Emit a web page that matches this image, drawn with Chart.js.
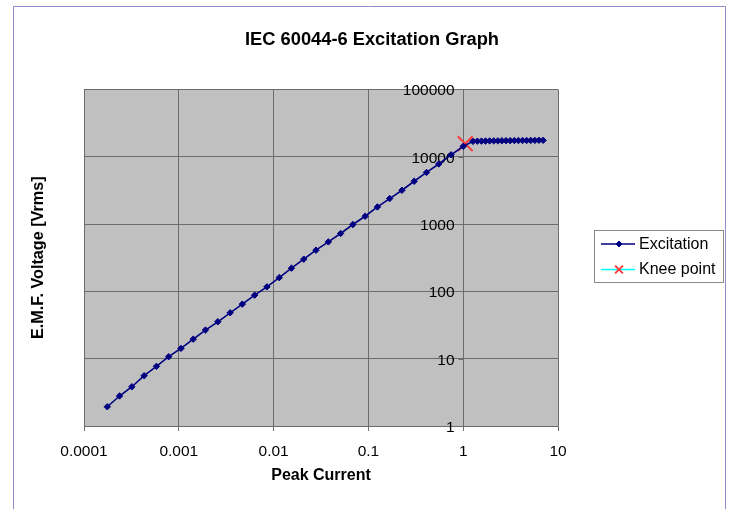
<!DOCTYPE html>
<html><head><meta charset="utf-8">
<script src="https://cdn.jsdelivr.net/npm/chart.js@4.4.1/dist/chart.umd.min.js"></script>
<style>html,body{margin:0;padding:0;background:#fff;overflow:hidden;}</style>
</head><body><canvas id="c" width="732" height="509"></canvas>
<script>
// ---- data ----
const currents = [0.000176, 0.000237, 0.00032, 0.000431, 0.000581, 0.000782, 0.001054, 0.00142, 0.00191, 0.00258,
  0.00348, 0.00468, 0.00631, 0.0085, 0.01146, 0.01543, 0.0208, 0.028, 0.0378, 0.0509,
  0.0686, 0.0924, 0.1245, 0.1677, 0.226, 0.304, 0.41, 0.553, 0.745, 1.003,
  1.27, 1.41, 1.56, 1.72, 1.90, 2.10, 2.32, 2.56, 2.83, 3.13, 3.46, 3.82, 4.23, 4.67, 5.16, 5.70, 6.30, 6.97];
const voltages = [1.93, 2.79, 3.83, 5.58, 7.69, 10.7, 14.2, 19.5, 26.6, 35.3,
  48.0, 64.6, 87.8, 116.7, 159.7, 220.9, 300.4, 408.7, 542.5, 723,
  983, 1305, 1794, 2389, 3173, 4315, 5830, 7793, 10670, 14270,
  16900, 17000, 17050, 17100, 17150, 17200, 17200, 17250, 17300, 17300, 17350, 17350, 17400, 17400, 17450, 17450, 17500, 17500];
const kneeCurrent = [1.05];
const kneeVoltage = [15600];
const xTicks = [0.0001, 0.001, 0.01, 0.1, 1, 10];
const xTickLabels = ['0.0001', '0.001', '0.01', '0.1', '1', '10'];
const yTicks = [1, 10, 100, 1000, 10000, 100000];
const yTickLabels = ['1', '10', '100', '1000', '10000', '100000'];
const yAxisCrossesAt = 1;
const seriesNames = ['Excitation', 'Knee point'];
const titleText = 'IEC 60044-6 Excitation Graph';
const xTitle = 'Peak Current';
const yTitle = 'E.M.F. Voltage [Vrms]';

// ---- styles ----
const FONT = '"Liberation Sans", Arial, Helvetica, sans-serif';
const GRID = '#6c6c6c';
const NAVY = '#000080';
const KNEE_RED = '#ff3b3b';
const KNEE_LINE = '#00ffff';

const toXY = (xs, ys) => xs.map((x, i) => ({ x: x, y: ys[i] }));

const plotBg = {
  id: 'plotBg',
  beforeDraw(chart) {
    const { ctx, chartArea: a } = chart;
    ctx.save();
    ctx.fillStyle = '#c0c0c0';
    ctx.fillRect(a.left, a.top, a.right - a.left, a.bottom - a.top);
    ctx.strokeStyle = '#8c8cc8';
    ctx.lineWidth = 1;
    ctx.beginPath();
    ctx.moveTo(13.5, 520); ctx.lineTo(13.5, 6.5); ctx.lineTo(725.5, 6.5); ctx.lineTo(725.5, 520);
    ctx.stroke();
    ctx.restore();
  }
};

// y-axis crosses the x-axis at x = yAxisCrossesAt; labels sit left of it
const yAxisLabels = {
  id: 'yAxisLabels',
  beforeDatasetsDraw(chart) {
    const { ctx } = chart;
    const xs = chart.scales.x, ys = chart.scales.y;
    const ax = Math.round(xs.getPixelForValue(yAxisCrossesAt)) + 0.5;
    ctx.save();
    ctx.strokeStyle = GRID;
    ctx.lineWidth = 1;
    ctx.fillStyle = '#000';
    ctx.font = '15.5px ' + FONT;
    ctx.textAlign = 'right';
    ctx.textBaseline = 'middle';
    yTicks.forEach((v, i) => {
      const py = Math.round(ys.getPixelForValue(v)) + 0.5;
      ctx.beginPath(); ctx.moveTo(ax - 5, py); ctx.lineTo(ax, py); ctx.stroke();
      ctx.fillText(yTickLabels[i], ax - 9, py + 1);
    });
    ctx.restore();
  }
};

const boxLegend = {
  id: 'boxLegend',
  afterDraw(chart) {
    const { ctx, chartArea: a } = chart;
    const left = a.right + 36, w = 129, h = 52;
    const top = Math.round((a.top + a.bottom) / 2 - h / 2) - 2;
    ctx.save();
    ctx.fillStyle = '#ffffff';
    ctx.fillRect(left, top, w, h);
    ctx.strokeStyle = '#8a8a8a';
    ctx.lineWidth = 1;
    ctx.strokeRect(left + 0.5, top + 0.5, w, h);
    chart.data.datasets.forEach((ds, i) => {
      const y = top + 14 + i * 25.5;
      ctx.strokeStyle = ds.lineColor;
      ctx.lineWidth = 1.5;
      ctx.beginPath(); ctx.moveTo(left + 7, y); ctx.lineTo(left + 41, y); ctx.stroke();
      ctx.fillStyle = ds.pointBackgroundColor;
      ctx.strokeStyle = ds.pointBorderColor;
      ctx.lineWidth = ds.pointBorderWidth;
      Chart.helpers.drawPoint(ctx, { pointStyle: ds.pointStyle, radius: i === 0 ? 3 : 5.5, borderWidth: ds.pointBorderWidth, rotation: 0 }, left + 25, y);
      ctx.fillStyle = '#000';
      ctx.font = '16px ' + FONT;
      ctx.textBaseline = 'middle';
      ctx.textAlign = 'left';
      ctx.fillText(ds.label, left + 45, y + 0.5);
    });
    ctx.restore();
  }
};

new Chart(document.getElementById('c'), {
  type: 'scatter',
  data: {
    datasets: [
      {
        label: seriesNames[0],
        data: toXY(currents, voltages),
        showLine: true,
        borderColor: NAVY,
        lineColor: NAVY,
        borderWidth: 1.6,
        pointStyle: 'rectRot',
        pointRadius: 3.2,
        pointBackgroundColor: NAVY,
        pointBorderColor: NAVY,
        pointBorderWidth: 1,
        xAxisID: 'x', yAxisID: 'y'
      },
      {
        label: seriesNames[1],
        data: toXY(kneeCurrent, kneeVoltage),
        showLine: false,
        borderColor: KNEE_LINE,
        lineColor: KNEE_LINE,
        pointStyle: 'crossRot',
        pointRadius: 10.5,
        pointBackgroundColor: KNEE_RED,
        pointBorderColor: KNEE_RED,
        pointBorderWidth: 2,
        xAxisID: 'x', yAxisID: 'y'
      }
    ]
  },
  options: {
    responsive: false,
    animation: false,
    layout: { padding: { left: 12, top: 0, right: 0, bottom: 0 } },
    plugins: {
      legend: { display: false },
      tooltip: { enabled: false },
      title: {
        display: true,
        text: titleText,
        color: '#000',
        font: { family: FONT, size: 18.3, weight: 'bold' },
        padding: { top: 28.7, bottom: 38.7 }
      }
    },
    scales: {
      x: {
        type: 'logarithmic',
        position: 'bottom',
        min: xTicks[0], max: xTicks[xTicks.length - 1],
        afterBuildTicks: s => { s.ticks = xTicks.map(v => ({ value: v })); },
        afterFit: s => { s.height = 83; },
        ticks: {
          color: '#000', font: { family: FONT, size: 15.5 }, padding: 11, maxRotation: 0, autoSkip: false,
          callback: v => { const i = xTicks.indexOf(v); return i >= 0 ? xTickLabels[i] : ''; }
        },
        grid: { color: GRID, lineWidth: 1, tickLength: 5, tickColor: GRID },
        border: { display: true, color: GRID, width: 1 },
        title: { display: true, text: xTitle, color: '#000', font: { family: FONT, size: 16, weight: 'bold' }, padding: { top: 0, bottom: 23.4 } }
      },
      y: {
        type: 'logarithmic',
        position: { x: yAxisCrossesAt },
        min: yTicks[0], max: yTicks[yTicks.length - 1],
        afterBuildTicks: s => { s.ticks = yTicks.map(v => ({ value: v })); },
        ticks: { display: false, autoSkip: false },
        grid: { color: GRID, lineWidth: 1, drawTicks: false },
        border: { display: true, color: GRID, width: 1 }
      },
      yTitleAxis: {
        type: 'linear', position: 'left', axis: 'y', min: 0, max: 1,
        afterFit: s => { s.width = 72; },
        ticks: { display: false },
        grid: { display: false },
        border: { display: false },
        title: { display: true, text: yTitle, color: '#000', font: { family: FONT, size: 16.2, weight: 'bold' }, padding: { top: 16.7, bottom: 0 } }
      },
      legendSpace: {
        type: 'linear', position: 'right', axis: 'y', min: 0, max: 1,
        afterFit: s => { s.width = 174; },
        ticks: { display: false },
        grid: { display: false },
        border: { display: false }
      }
    }
  },
  plugins: [plotBg, yAxisLabels, boxLegend]
});
</script>
</body></html>
